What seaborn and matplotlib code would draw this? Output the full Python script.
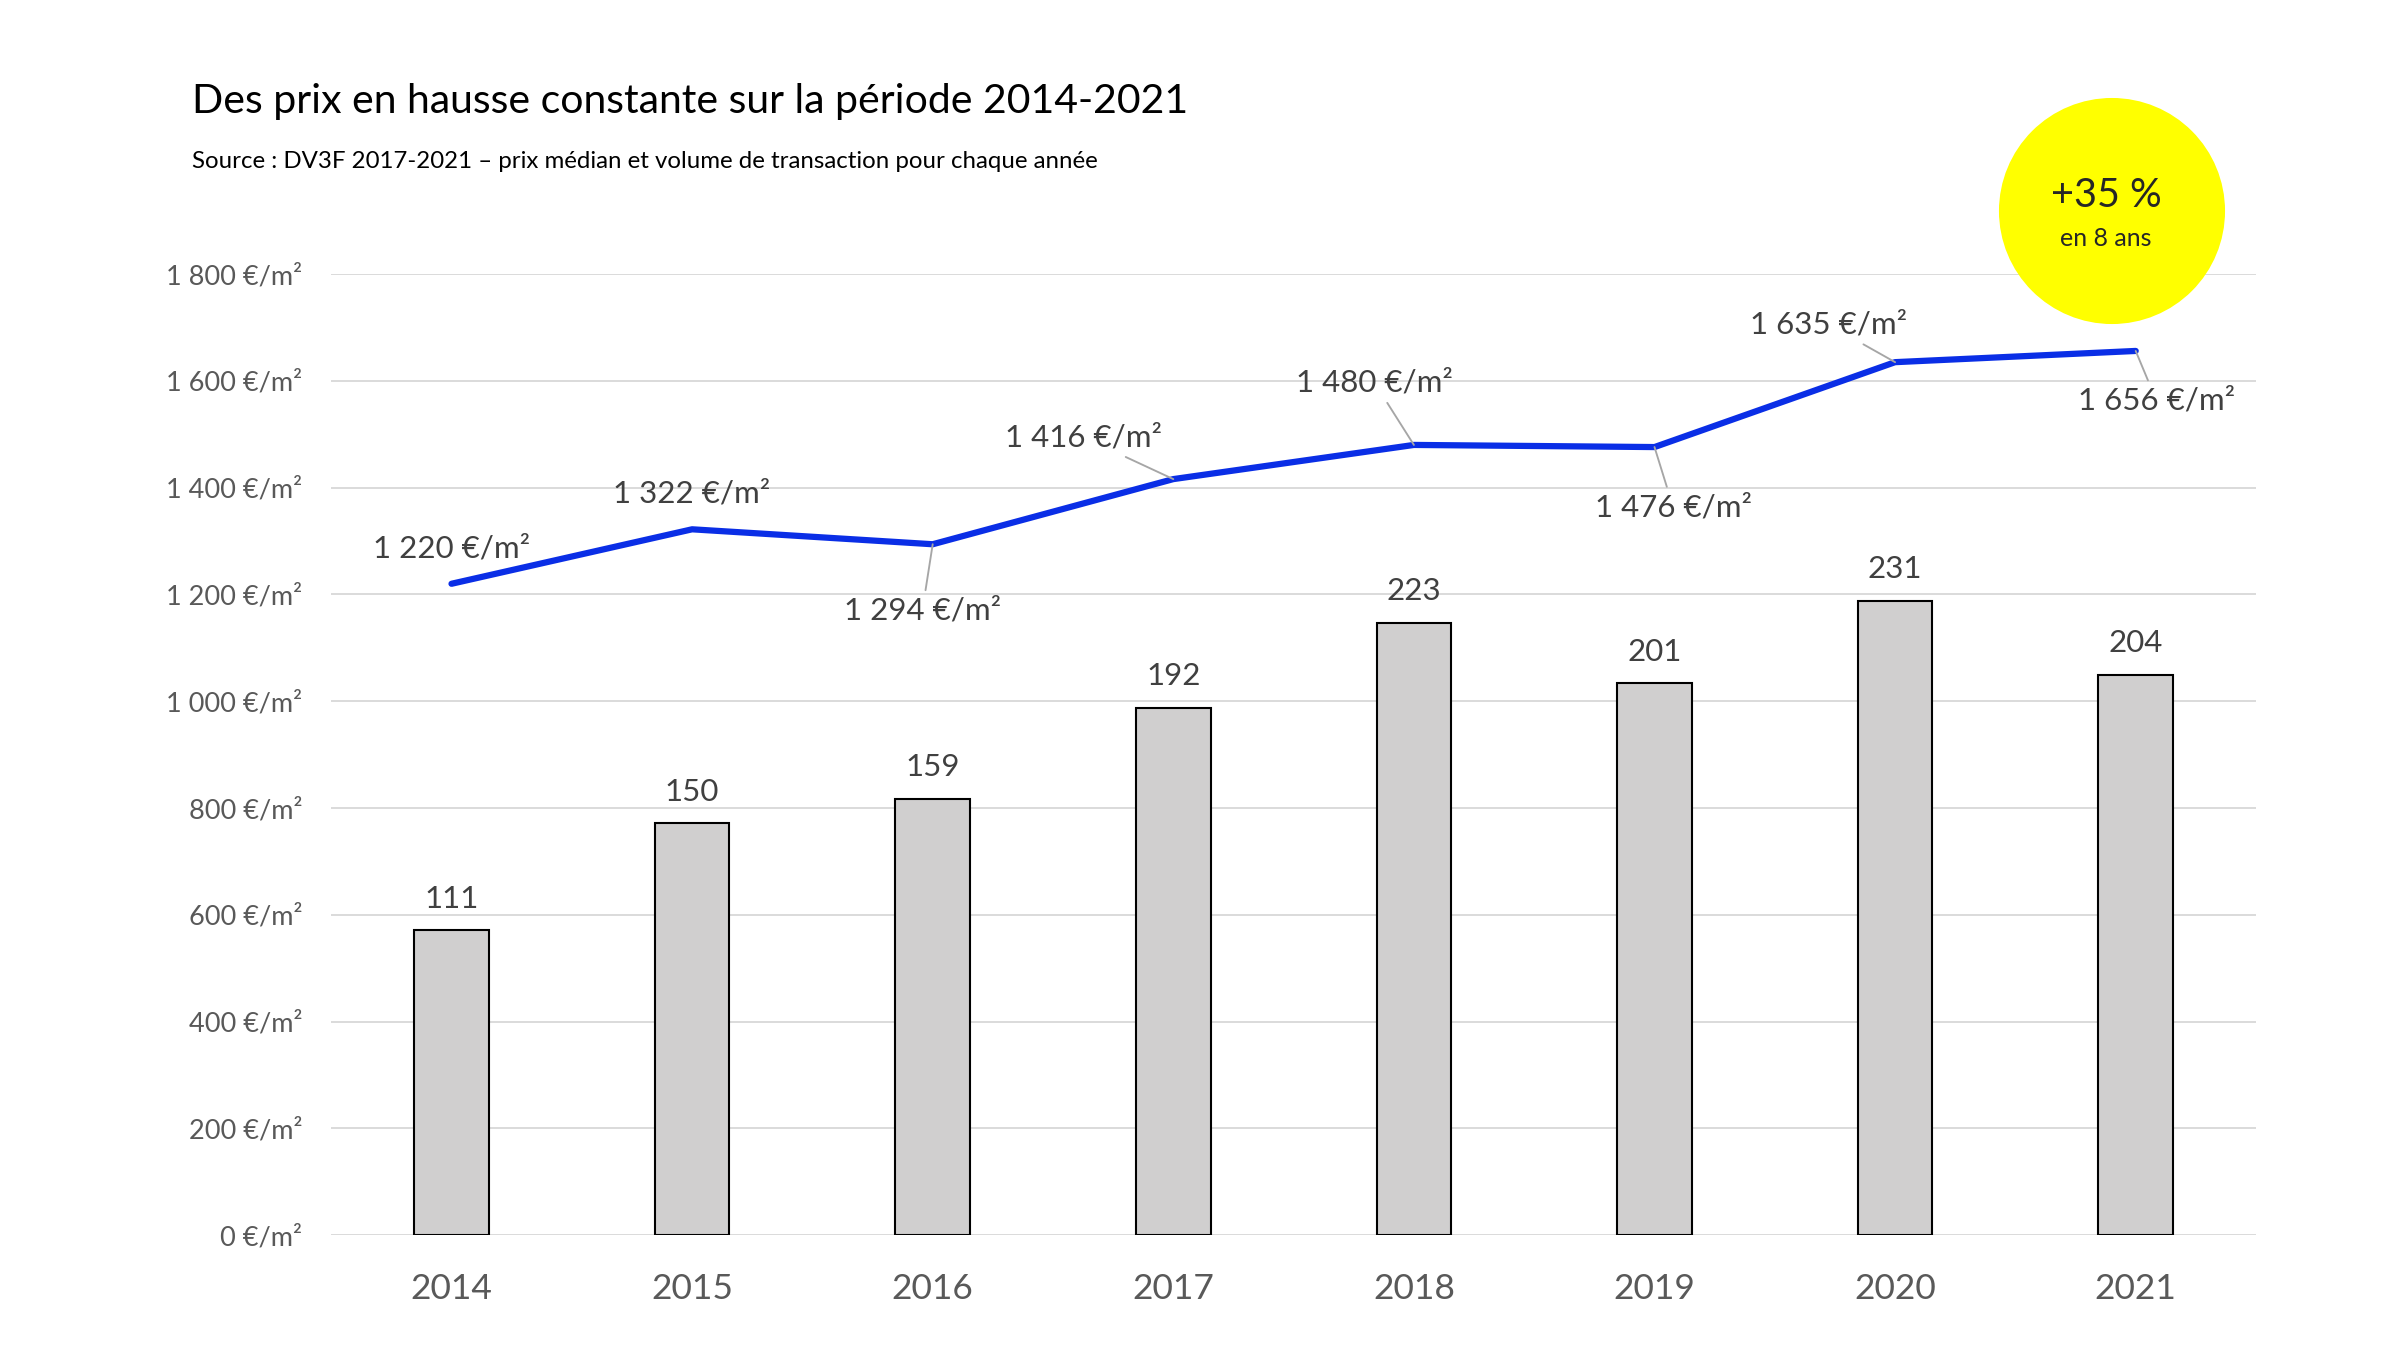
import numpy as np
import pandas as pd
import matplotlib.pyplot as plt
import matplotlib.patches as mpatches
from matplotlib.ticker import FuncFormatter
import seaborn as sns

# donnees : prix median et volume de transactions par annee
annees = ['2014', '2015', '2016', '2017', '2018', '2019', '2020', '2021']
prix = [1220, 1322, 1294, 1416, 1480, 1476, 1635, 1656]
volumes = [111, 150, 159, 192, 223, 201, 231, 204]

# decalage des etiquettes de prix (en points) et trait de rappel
decal_x = [0, 0, -5, -43, -19, 9, -32, 10]
decal_y = [17, 17, -32, 20, 30, -29, 18, -24]
trait = [False, False, True, True, True, True, True, True]

df = pd.DataFrame({'annee': annees, 'prix': prix, 'volume': volumes})

sns.set_theme(style='white')
plt.rcParams['font.family'] = ['Lato', 'DejaVu Sans']

gris = '#595959'
fig, ax = plt.subplots(figsize=(16, 9), dpi=150)
fig.subplots_adjust(left=0.138, right=0.940, bottom=0.085, top=0.797)

# axe des prix : grille et graduations
ax.set_ylim(0, 1800)
ax.set_yticks(range(0, 1801, 200))
ax.yaxis.set_major_formatter(FuncFormatter(lambda v, p: f'{v:,.0f}'.replace(',', ' ') + ' €/m²'))
ax.grid(axis='y', color='#d9d9d9', lw=0.9)
ax.tick_params(axis='y', labelsize=13, labelcolor=gris, length=0, pad=14)
ax.tick_params(axis='x', labelsize=17, labelcolor=gris, length=0, pad=18)
sns.despine(ax=ax, left=True, bottom=True)

# barres des volumes (axe secondaire cache)
axb = ax.twinx()
sns.barplot(data=df, x='annee', y='volume', color='#d0cfcf', saturation=1,
            width=0.31, edgecolor='black', linewidth=1, ax=axb)
axb.set_ylim(0, 350)
for i, v in enumerate(volumes):
    axb.annotate(str(v), (i, v), xytext=(0, 8.5), textcoords='offset points',
                 ha='center', va='bottom', fontsize=15, color='#404040')

# courbe des prix
axl = ax.twinx()
sns.pointplot(data=df, x='annee', y='prix', color='#0a2ee6', marker='',
              linewidth=3, errorbar=None, ax=axl)
axl.set_ylim(0, 1800)
for i, p in enumerate(prix):
    props = dict(arrowstyle='-', color='#a6a6a6', lw=0.9, shrinkA=1, shrinkB=0) if trait[i] else None
    axl.annotate(f'{p:,}'.replace(',', ' ') + ' €/m²', (i, p),
                 xytext=(decal_x[i], decal_y[i]), textcoords='offset points',
                 ha='center', va='center', fontsize=15, color='#404040',
                 arrowprops=props)

for a in (axb, axl):
    a.set_yticks([])
    a.set_ylabel('')
    a.set_xlabel('')
    for s in a.spines.values():
        s.set_visible(False)

ax.set_xlim(-0.5, 7.5)
ax.set_xticks(range(len(annees)))
ax.set_xticklabels(annees)
ax.set_xlabel('')
ax.set_ylabel('')

# titre et source
fig.text(0.080, 0.925, 'Des prix en hausse constante sur la période 2014-2021',
         fontsize=19.7, color='black', va='center')
fig.text(0.080, 0.880, 'Source : DV3F 2017-2021 – prix médian et volume de transaction pour chaque année',
         fontsize=11.5, color='black', va='center')

# pastille jaune
fig.patches.append(mpatches.Ellipse((0.880, 0.8437), 224 / 2400, 224 / 1350,
                                    transform=fig.transFigure, color='#ffff00',
                                    zorder=5))
fig.text(0.8775, 0.855, '+35 %', fontsize=19, ha='center', va='center', zorder=6)
fig.text(0.8775, 0.823, 'en 8 ans', fontsize=12, ha='center', va='center', zorder=6)

fig.savefig('out.png', dpi=150)
